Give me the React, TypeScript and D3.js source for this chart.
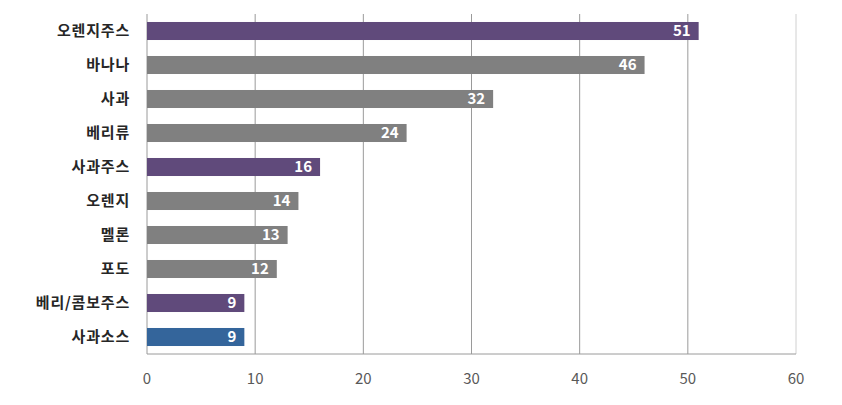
import React, { useRef, useEffect } from 'react';
import * as d3 from 'd3';

const categories = ['오렌지주스', '바나나', '사과', '베리류', '사과주스', '오렌지', '멜론', '포도', '베리/콤보주스', '사과소스'];
const values = [51, 46, 32, 24, 16, 14, 13, 12, 9, 9];
const groups = ['juice', 'fruit', 'fruit', 'fruit', 'juice', 'fruit', 'fruit', 'fruit', 'juice', 'sauce'];
const xTicks = [0, 10, 20, 30, 40, 50, 60];

const colors: Record<string, string> = { juice: '#604a7b', fruit: '#808080', sauce: '#34659b' };

const App = () => {
  const svgRef = useRef<SVGSVGElement>(null);
  const width = 842, height = 405;
  const margin = { left: 147, right: 46, top: 14, bottom: 51 };

  useEffect(() => {
    const svg = d3.select(svgRef.current);
    svg.selectAll('*').remove();

    const x = d3.scaleLinear().domain([0, 60]).range([margin.left, width - margin.right]);
    const y = d3.scaleBand().domain(categories).range([margin.top, height - margin.bottom]).paddingInner(0.47).paddingOuter(0.235);
    const font = "'Malgun Gothic', 'Noto Sans CJK KR', sans-serif";

    // gridlines
    svg.append('g').selectAll('line').data(xTicks.slice(1)).join('line')
      .attr('x1', d => x(d)).attr('x2', d => x(d))
      .attr('y1', margin.top).attr('y2', height - margin.bottom)
      .attr('stroke', d => d === 60 ? '#d0d0d0' : '#9a9a9a').attr('stroke-width', 1);

    // axis lines
    svg.append('line').attr('x1', x(0)).attr('x2', x(0)).attr('y1', margin.top).attr('y2', height - margin.bottom)
      .attr('stroke', '#9a9a9a');
    svg.append('line').attr('x1', x(0)).attr('x2', x(60)).attr('y1', height - margin.bottom).attr('y2', height - margin.bottom)
      .attr('stroke', '#9a9a9a');

    // bars
    svg.append('g').selectAll('rect').data(categories).join('rect')
      .attr('x', x(0)).attr('y', d => y(d)!)
      .attr('width', (d, i) => x(values[i]) - x(0)).attr('height', y.bandwidth())
      .attr('fill', (d, i) => colors[groups[i]]);

    // value labels
    svg.append('g').selectAll('text').data(categories).join('text')
      .attr('x', (d, i) => x(values[i]) - 8).attr('y', d => y(d)! + y.bandwidth() / 2)
      .attr('dy', '0.36em').attr('text-anchor', 'end')
      .attr('fill', 'white').attr('font-family', font).attr('font-weight', 'bold').attr('font-size', '15px')
      .text((d, i) => values[i]);

    // category labels
    svg.append('g').selectAll('text').data(categories).join('text')
      .attr('x', margin.left - 17).attr('y', d => y(d)! + y.bandwidth() / 2)
      .attr('dy', '0.36em').attr('text-anchor', 'end')
      .attr('fill', '#262626').attr('font-family', font).attr('font-weight', 'bold').attr('font-size', '15px')
      .attr('letter-spacing', '0.8px')
      .text(d => d);

    // tick labels
    svg.append('g').selectAll('text').data(xTicks).join('text')
      .attr('x', d => x(d)).attr('y', height - margin.bottom + 30)
      .attr('text-anchor', 'middle')
      .attr('fill', '#595959').attr('font-family', font).attr('font-size', '15px')
      .text(d => d);
  }, []);

  return (
    <svg ref={svgRef} width={width} height={height} style={{ position: 'absolute', left: 0, top: 0, background: '#fff' }}></svg>
  );
};

export default App;
